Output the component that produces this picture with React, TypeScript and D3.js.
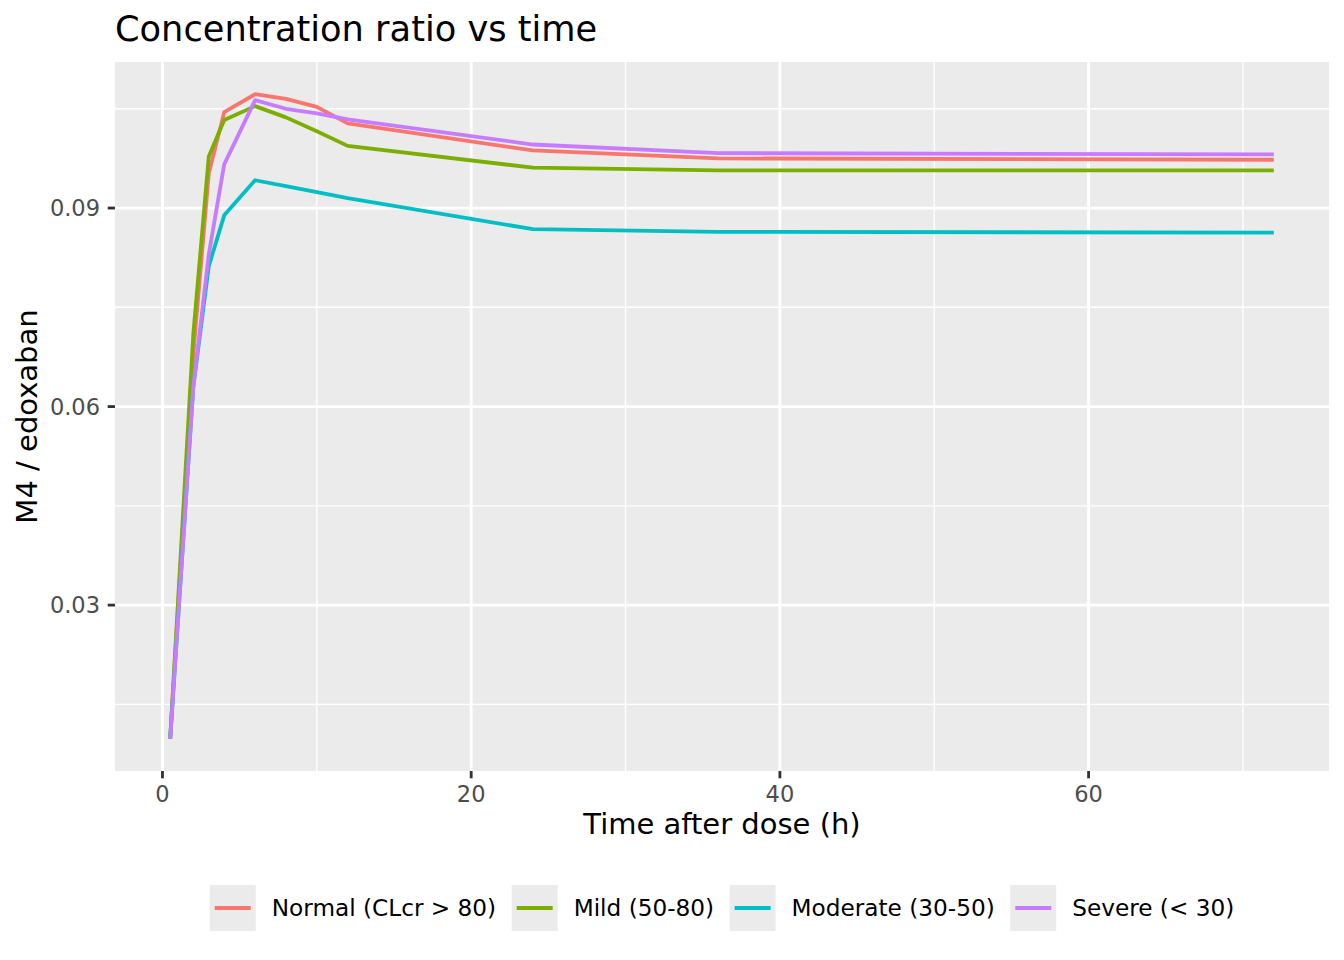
import React from "react";
import * as d3 from "d3";

const times = [0.5, 2, 3, 4, 6, 8, 10, 12, 24, 36, 72];
const normal = [0.0098, 0.068, 0.0952, 0.1045, 0.1072, 0.1065, 0.1053, 0.1028, 0.0987, 0.0975, 0.0973];
const mild = [0.0098, 0.071, 0.0978, 0.1033, 0.1054, 0.1037, 0.1016, 0.0994, 0.0961, 0.0957, 0.0957];
const moderate = [0.0098, 0.063, 0.0812, 0.0889, 0.0942, 0.0933, 0.0924, 0.0915, 0.0868, 0.0864, 0.0863];
const severe = [0.0098, 0.063, 0.083, 0.0966, 0.1063, 0.105, 0.1043, 0.1034, 0.0996, 0.0983, 0.0981];
const seriesNames = ["Normal (CLcr > 80)", "Mild (50-80)", "Moderate (30-50)", "Severe (< 30)"];
const seriesValues = [normal, mild, moderate, severe];
const colors = ["#F8766D", "#7CAE00", "#00BFC4", "#C77CFF"];
const xTicks = [0, 20, 40, 60];
const xMinor = [10, 30, 50, 70];
const yTicks = [0.03, 0.06, 0.09];
const yMinor = [0.015, 0.045, 0.075, 0.105];

const W = 1344;
const H = 960;
const panel = { left: 115, right: 1329, top: 62, bottom: 771 };
const FONT = "DejaVu Sans, sans-serif";

function measure(text: string, size: number): number {
  const c = document.createElement("canvas").getContext("2d");
  if (!c) return text.length * size * 0.55;
  c.font = `${size}px "DejaVu Sans"`;
  return c.measureText(text).width;
}

export default function App() {
  const allY = seriesValues.flat();
  const yMin = d3.min(allY) as number;
  const yMax = d3.max(allY) as number;
  const yPad = (yMax - yMin) * 0.05;
  const xMin = d3.min(times) as number;
  const xMax = d3.max(times) as number;
  const xPad = (xMax - xMin) * 0.05;

  const x = d3.scaleLinear().domain([xMin - xPad, xMax + xPad]).range([panel.left, panel.right]);
  const y = d3.scaleLinear().domain([yMin - yPad, yMax + yPad]).range([panel.bottom, panel.top]);

  const line = d3
    .line<[number, number]>()
    .x((d) => x(d[0]))
    .y((d) => y(d[1]));

  // legend layout
  const legendFont = 23.2;
  const keySize = 46;
  const textGap = 16;
  const itemGap = 15.5;
  const widths = seriesNames.map((n) => measure(n, legendFont));
  const totalW = widths.reduce((a, w) => a + keySize + textGap + w, 0) + itemGap * (seriesNames.length - 1);
  const legendCenter = (panel.left + panel.right) / 2;
  let cursor = legendCenter - totalW / 2;
  const legendY = 908;
  const legendItems = seriesNames.map((n, i) => {
    const item = { name: n, x: cursor, color: colors[i] };
    cursor += keySize + textGap + widths[i] + itemGap;
    return item;
  });

  return (
    <div style={{ position: "fixed", left: 0, top: 0 }}>
      <svg width={W} height={H} style={{ display: "block", background: "#FFFFFF" }} fontFamily={FONT}>
        <rect x={0} y={0} width={W} height={H} fill="#FFFFFF" />
        <rect
          x={panel.left}
          y={panel.top}
          width={panel.right - panel.left}
          height={panel.bottom - panel.top}
          fill="#EBEBEB"
        />
        {xMinor.map((t) => (
          <line key={"xm" + t} x1={x(t)} x2={x(t)} y1={panel.top} y2={panel.bottom} stroke="#FFFFFF" strokeWidth={1.42} />
        ))}
        {yMinor.map((t) => (
          <line key={"ym" + t} x1={panel.left} x2={panel.right} y1={y(t)} y2={y(t)} stroke="#FFFFFF" strokeWidth={1.42} />
        ))}
        {xTicks.map((t) => (
          <line key={"xg" + t} x1={x(t)} x2={x(t)} y1={panel.top} y2={panel.bottom} stroke="#FFFFFF" strokeWidth={2.84} />
        ))}
        {yTicks.map((t) => (
          <line key={"yg" + t} x1={panel.left} x2={panel.right} y1={y(t)} y2={y(t)} stroke="#FFFFFF" strokeWidth={2.84} />
        ))}
        <defs>
          <clipPath id="clip">
            <rect x={panel.left} y={panel.top} width={panel.right - panel.left} height={panel.bottom - panel.top} />
          </clipPath>
        </defs>
        <g clipPath="url(#clip)">
          {seriesValues.map((vals, i) => (
            <path
              key={seriesNames[i]}
              d={line(times.map((t, j) => [t, vals[j]] as [number, number])) || ""}
              fill="none"
              stroke={colors[i]}
              strokeWidth={3.8}
              strokeLinejoin="round"
            />
          ))}
        </g>
        {xTicks.map((t) => (
          <g key={"xt" + t}>
            <line x1={x(t)} x2={x(t)} y1={panel.bottom} y2={panel.bottom + 7.3} stroke="#333333" strokeWidth={2.84} />
            <text x={x(t)} y={802} textAnchor="middle" fontSize={22.5} fill="#4D4D4D">
              {d3.format("d")(t)}
            </text>
          </g>
        ))}
        {yTicks.map((t) => (
          <g key={"yt" + t}>
            <line x1={panel.left - 7.3} x2={panel.left} y1={y(t)} y2={y(t)} stroke="#333333" strokeWidth={2.84} />
            <text x={100} y={y(t)} dy="0.36em" textAnchor="end" fontSize={22.5} fill="#4D4D4D">
              {d3.format(".2f")(t)}
            </text>
          </g>
        ))}
        <text x={legendCenter} y={834} textAnchor="middle" fontSize={29} fill="#000000">
          Time after dose (h)
        </text>
        <text
          transform={`translate(37, ${(panel.top + panel.bottom) / 2}) rotate(-90)`}
          textAnchor="middle"
          fontSize={29}
          fill="#000000"
        >
          M4 / edoxaban
        </text>
        <text x={panel.left} y={41} fontSize={35.2} fill="#000000">
          Concentration ratio vs time
        </text>
        {legendItems.map((it) => (
          <g key={"lg" + it.name}>
            <rect x={it.x} y={legendY - keySize / 2} width={keySize} height={keySize} fill="#EBEBEB" />
            <line
              x1={it.x + 5}
              x2={it.x + keySize - 5}
              y1={legendY}
              y2={legendY}
              stroke={it.color}
              strokeWidth={3.8}
            />
            <text x={it.x + keySize + textGap} y={legendY} dy="0.36em" fontSize={legendFont} fill="#000000">
              {it.name}
            </text>
          </g>
        ))}
      </svg>
    </div>
  );
}
